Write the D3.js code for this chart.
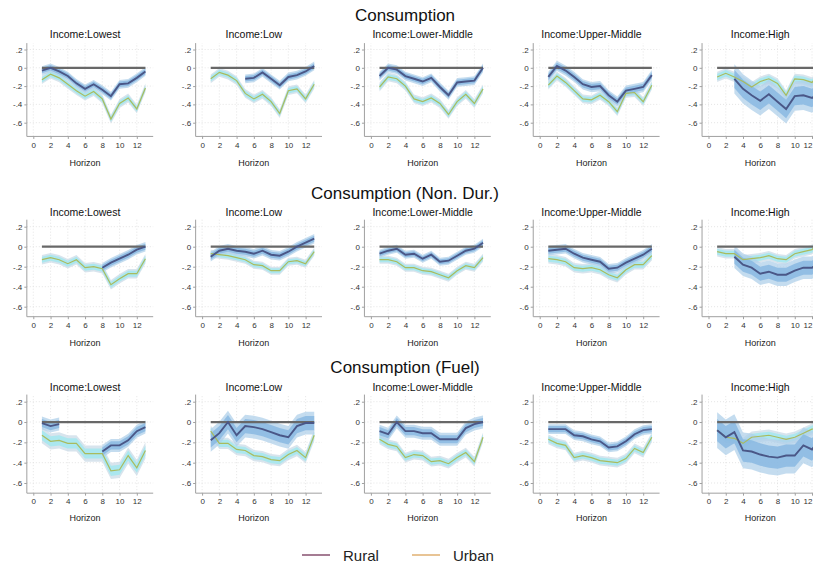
<!DOCTYPE html>
<html>
<head>
    <title>Consumption responses by income group</title>
    <script src="https://d3js.org/d3.v7.min.js"></script>
    <style>
        body {
            margin: 0;
            background: #ffffff;
            font-family: "Liberation Sans", Arial, sans-serif;
        }
        svg {
            display: block;
        }
    </style>
</head>
<body>
    <div id="chart"></div>
    <script type="text/javascript" charset="utf-8">

        // ---- data ----
        var horizon = [1, 2, 3, 4, 5, 6, 7, 8, 9, 10, 11, 12, 13];
        var incomeGroups = ["Income:Lowest", "Income:Low", "Income:Lower-Middle", "Income:Upper-Middle", "Income:High"];
        var sections = ["Consumption", "Consumption (Non. Dur.)", "Consumption (Fuel)"];
        var xTicks = [0, 2, 4, 6, 8, 10, 12];
        var yTicks = [0.2, 0, -0.2, -0.4, -0.6];
        var seriesNames = ["Rural", "Urban"];

        // Consumption
        var consRural = [
            [-0.03, 0.00, -0.04, -0.09, -0.17, -0.23, -0.18, -0.24, -0.31, -0.18, -0.17, -0.11, -0.04],
            [null, null, null, null, -0.12, -0.11, -0.05, -0.12, -0.19, -0.10, -0.08, -0.04, 0.02],
            [-0.09, 0.00, -0.02, -0.09, -0.12, -0.15, -0.11, -0.21, -0.30, -0.16, -0.15, -0.14, 0.00],
            [-0.10, 0.02, -0.03, -0.10, -0.18, -0.21, -0.20, -0.30, -0.37, -0.25, -0.23, -0.21, -0.08],
            [null, null, -0.12, -0.23, -0.30, -0.36, -0.29, -0.37, -0.45, -0.31, -0.30, -0.33, -0.25]
        ];
        var consUrban = [
            [-0.13, -0.07, -0.11, -0.18, -0.25, -0.31, -0.26, -0.34, -0.56, -0.39, -0.33, -0.45, -0.22],
            [-0.12, -0.05, -0.08, -0.14, -0.28, -0.34, -0.29, -0.37, -0.50, -0.25, -0.23, -0.34, -0.18],
            [-0.21, -0.10, -0.12, -0.20, -0.34, -0.37, -0.33, -0.39, -0.51, -0.37, -0.29, -0.39, -0.23],
            [-0.19, -0.09, -0.16, -0.25, -0.34, -0.35, -0.30, -0.37, -0.48, -0.28, -0.27, -0.37, -0.19],
            [-0.10, -0.06, -0.10, -0.15, -0.21, -0.15, -0.12, -0.17, -0.30, -0.12, -0.13, -0.16, -0.05]
        ];
        var consRuralCI = [0.03, 0.03, 0.03, 0.035, 0.10];
        var consUrbanCI = [0.03, 0.03, 0.03, 0.03, 0.035];

        // Consumption (Non. Dur.)
        var nondurRural = [
            [null, null, null, null, null, null, null, -0.21, -0.16, -0.12, -0.08, -0.03, 0.00],
            [-0.10, -0.04, -0.02, -0.04, -0.05, -0.07, -0.04, -0.08, -0.09, -0.05, 0.00, 0.04, 0.08],
            [-0.07, -0.04, -0.02, -0.08, -0.07, -0.12, -0.08, -0.15, -0.14, -0.09, -0.04, -0.02, 0.04],
            [-0.04, -0.03, -0.02, -0.07, -0.11, -0.13, -0.15, -0.22, -0.21, -0.16, -0.12, -0.08, -0.02],
            [null, null, -0.10, -0.18, -0.21, -0.27, -0.25, -0.28, -0.28, -0.24, -0.21, -0.21, -0.15]
        ];
        var nondurUrban = [
            [-0.13, -0.11, -0.13, -0.17, -0.13, -0.21, -0.20, -0.22, -0.38, -0.32, -0.27, -0.27, -0.12],
            [-0.07, -0.08, -0.09, -0.11, -0.13, -0.18, -0.19, -0.24, -0.24, -0.15, -0.14, -0.17, -0.05],
            [-0.13, -0.13, -0.15, -0.21, -0.21, -0.24, -0.25, -0.28, -0.31, -0.24, -0.19, -0.21, -0.11],
            [-0.12, -0.13, -0.15, -0.21, -0.22, -0.21, -0.23, -0.28, -0.31, -0.23, -0.18, -0.18, -0.09],
            [-0.05, -0.07, -0.07, -0.13, -0.12, -0.11, -0.09, -0.12, -0.13, -0.07, -0.05, -0.03, 0.07]
        ];
        var nondurRuralCI = [0.03, 0.03, 0.025, 0.03, 0.07];
        var nondurUrbanCI = [0.03, 0.025, 0.025, 0.03, 0.03];

        // Consumption (Fuel)
        var fuelRural = [
            [-0.01, -0.04, -0.02, null, null, null, null, -0.29, -0.23, -0.23, -0.18, -0.09, -0.05],
            [-0.18, -0.11, 0.00, -0.13, -0.04, -0.05, -0.07, -0.10, -0.13, -0.15, -0.04, -0.01, -0.01],
            [-0.09, -0.12, 0.00, -0.09, -0.09, -0.11, -0.11, -0.17, -0.17, -0.17, -0.06, -0.02, 0.00],
            [-0.07, -0.07, -0.07, -0.13, -0.14, -0.17, -0.19, -0.25, -0.24, -0.19, -0.12, -0.08, -0.07],
            [-0.08, -0.15, -0.10, -0.28, -0.29, -0.32, -0.34, -0.35, -0.33, -0.33, -0.23, -0.27, -0.15]
        ];
        var fuelUrban = [
            [-0.13, -0.19, -0.18, -0.21, -0.21, -0.31, -0.31, -0.31, -0.48, -0.47, -0.33, -0.45, -0.28],
            [-0.09, -0.21, -0.21, -0.27, -0.28, -0.33, -0.34, -0.37, -0.38, -0.32, -0.28, -0.35, -0.13],
            [-0.17, -0.22, -0.24, -0.35, -0.32, -0.33, -0.39, -0.38, -0.41, -0.35, -0.30, -0.39, -0.15],
            [-0.17, -0.21, -0.23, -0.35, -0.33, -0.35, -0.38, -0.39, -0.40, -0.36, -0.26, -0.30, -0.15],
            [-0.08, -0.15, -0.16, -0.21, -0.15, -0.14, -0.13, -0.15, -0.17, -0.15, -0.11, -0.07, -0.04]
        ];
        var fuelRuralCI = [0.04, 0.07, 0.04, 0.03, 0.11];
        var fuelUrbanCI = [0.05, 0.035, 0.03, 0.03, 0.035];

        var rows = [
            { rural: consRural, urban: consUrban, ruralCI: consRuralCI, urbanCI: consUrbanCI },
            { rural: nondurRural, urban: nondurUrban, ruralCI: nondurRuralCI, urbanCI: nondurUrbanCI },
            { rural: fuelRural, urban: fuelUrban, ruralCI: fuelRuralCI, urbanCI: fuelUrbanCI }
        ];

        // ---- layout ----
        var width = 813, height = 571;
        // pixel positions of the .2 and -.6 ticks per row, axis floor, and text baselines
        var rowLayout = [
            { yTop: 49.5, yBot: 122.7, yMin: -0.75, section: 21, title: 38, label: 166 },
            { yTop: 226.7, yBot: 306.7, yMin: -0.7, section: 199, title: 216, label: 346 },
            { yTop: 401.7, yBot: 483, yMin: -0.7, section: 373, title: 391, label: 521 }
        ];
        var panelX0 = 33.3, panelStep = 168.8, panelW12 = 103.5;

        var colors = {
            ruralLine: "#4a5787",
            ruralInner: "#82b4e0",
            ruralOuter: "#b0d0ea",
            urbanLine: "#a9bb5e",
            urbanInner: "#a3e7ee",
            urbanOuter: "#cbdbe7",
            zero: "#686868",
            axis: "#a0a0a0",
            grid: "#dedede",
            legendRural: "#8e5b78",
            legendUrban: "#e2b57a"
        };

        function fmtTick(d) {
            if (d === 0) return "0";
            return (d < 0 ? "-" : "") + String(Math.abs(d)).replace("0.", ".");
        }

        var svg = d3.select("#chart")
            .append("svg")
            .attr("width", width)
            .attr("height", height);

        rows.forEach(function (row, r) {
            var L = rowLayout[r];

            svg.append("text")
                .attr("x", 405)
                .attr("y", L.section)
                .attr("text-anchor", "middle")
                .attr("font-size", 17)
                .attr("fill", "#111")
                .text(sections[r]);

            incomeGroups.forEach(function (grp, p) {
                var x0 = panelX0 + panelStep * p;
                var x = d3.scaleLinear().domain([0, 12]).range([x0, x0 + panelW12]);
                var y = d3.scaleLinear().domain([-0.6, 0.2]).range([L.yBot, L.yTop]);
                var g = svg.append("g");

                var xMin = -0.75, xMax = 13.9, yMin = L.yMin, yMax = 0.27;

                // dotted grid
                g.selectAll(".hgrid")
                    .data(yTicks)
                    .join("line")
                    .attr("x1", x(xMin)).attr("x2", x(xMax))
                    .attr("y1", function (d) { return y(d); })
                    .attr("y2", function (d) { return y(d); })
                    .attr("stroke", colors.grid)
                    .attr("stroke-width", 0.8)
                    .attr("stroke-dasharray", "1,2");
                g.selectAll(".vgrid")
                    .data(xTicks)
                    .join("line")
                    .attr("y1", y(yMin)).attr("y2", y(yMax))
                    .attr("x1", function (d) { return x(d); })
                    .attr("x2", function (d) { return x(d); })
                    .attr("stroke", colors.grid)
                    .attr("stroke-width", 0.8)
                    .attr("stroke-dasharray", "1,2");

                // axes
                var yAxis = d3.axisLeft(y).tickValues(yTicks).tickFormat(fmtTick).tickSize(2.5).tickPadding(2);
                var xAxis = d3.axisBottom(x).tickValues(xTicks).tickFormat(d3.format("d")).tickSize(2.5).tickPadding(3);

                var ya = g.append("g")
                    .attr("transform", "translate(" + x(xMin) + ",0)")
                    .call(yAxis);
                var xa = g.append("g")
                    .attr("transform", "translate(0," + y(yMin) + ")")
                    .call(xAxis);
                [ya, xa].forEach(function (a) {
                    a.select(".domain").remove();
                    a.selectAll(".tick line").attr("stroke", colors.axis);
                    a.selectAll("text")
                        .attr("font-size", 8)
                        .attr("fill", "#333")
                        .attr("font-family", "Liberation Sans, Arial, sans-serif");
                });
                // keep tick labels at the right page edge inside the picture
                xa.selectAll(".tick text").each(function (d) {
                    var right = x(d) + this.getComputedTextLength() / 2;
                    if (right > width - 1) d3.select(this).attr("dx", (width - 1 - right) + "px");
                });
                g.append("line")
                    .attr("x1", x(xMin)).attr("x2", x(xMin))
                    .attr("y1", y(yMax)).attr("y2", y(yMin))
                    .attr("stroke", colors.axis);
                g.append("line")
                    .attr("x1", x(xMin)).attr("x2", x(xMax))
                    .attr("y1", y(yMin)).attr("y2", y(yMin))
                    .attr("stroke", colors.axis);

                // panel title and x label
                g.append("text")
                    .attr("x", x(6))
                    .attr("y", L.title)
                    .attr("text-anchor", "middle")
                    .attr("font-size", 10.5)
                    .attr("fill", "#111")
                    .text(grp);
                g.append("text")
                    .attr("x", x(6))
                    .attr("y", L.label)
                    .attr("text-anchor", "middle")
                    .attr("font-size", 9)
                    .attr("fill", "#222")
                    .text("Horizon");

                function bandData(vals, ci) {
                    return horizon.map(function (h, i) { return { h: h, v: vals[i], ci: ci }; });
                }
                function area(k) {
                    return d3.area()
                        .defined(function (d) { return d.v != null; })
                        .x(function (d) { return x(d.h); })
                        .y0(function (d) { return y(d.v - d.ci * k); })
                        .y1(function (d) { return y(d.v + d.ci * k); });
                }
                var line = d3.line()
                    .defined(function (d) { return d.v != null; })
                    .x(function (d) { return x(d.h); })
                    .y(function (d) { return y(d.v); });

                var urb = bandData(row.urban[p], row.urbanCI[p]);
                var rur = bandData(row.rural[p], row.ruralCI[p]);

                g.append("path").datum(urb).attr("d", area(1.6))
                    .attr("fill", colors.urbanOuter).attr("opacity", 0.75);
                g.append("path").datum(urb).attr("d", area(1))
                    .attr("fill", colors.urbanInner).attr("opacity", 0.85);
                g.append("path").datum(rur).attr("d", area(1.6))
                    .attr("fill", colors.ruralOuter).attr("opacity", 0.75);
                g.append("path").datum(rur).attr("d", area(1))
                    .attr("fill", colors.ruralInner).attr("opacity", 0.75);

                // zero line
                g.append("line")
                    .attr("x1", x(1)).attr("x2", x(13))
                    .attr("y1", y(0)).attr("y2", y(0))
                    .attr("stroke", colors.zero)
                    .attr("stroke-width", 2.2);

                g.append("path").datum(urb).attr("d", line)
                    .attr("fill", "none")
                    .attr("stroke", colors.urbanLine)
                    .attr("stroke-width", 1.2);
                g.append("path").datum(rur).attr("d", line)
                    .attr("fill", "none")
                    .attr("stroke", colors.ruralLine)
                    .attr("stroke-width", 1.9);
            });
        });

        // legend
        var legendX = [302, 412];
        var legendColors = [colors.legendRural, colors.legendUrban];
        var lg = svg.append("g");
        lg.selectAll("line")
            .data(seriesNames)
            .join("line")
            .attr("x1", function (d, i) { return legendX[i]; })
            .attr("x2", function (d, i) { return legendX[i] + 28; })
            .attr("y1", 555).attr("y2", 555)
            .attr("stroke", function (d, i) { return legendColors[i]; })
            .attr("stroke-width", 1.6);
        lg.selectAll("text")
            .data(seriesNames)
            .join("text")
            .attr("x", function (d, i) { return legendX[i] + 41; })
            .attr("y", 561)
            .attr("font-size", 15)
            .attr("fill", "#222")
            .text(function (d) { return d; });
    </script>
</body>
</html>
